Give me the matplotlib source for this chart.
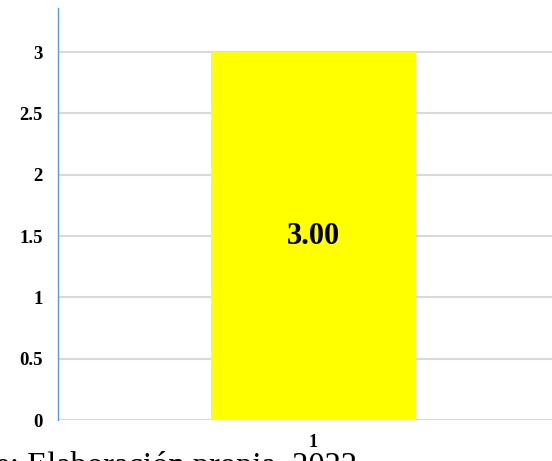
import matplotlib
matplotlib.use("Agg")
import matplotlib.pyplot as plt

categories = ["1"]
values = [3.00]
bar_labels = ["3.00"]
yticks = [0, 0.5, 1, 1.5, 2, 2.5, 3]
ytick_labels = ["0", "0.5", "1", "1.5", "2", "2.5", "3"]
source = "Fuente: Elaboración propia, 2022"

plt.rcParams['font.family'] = ['Liberation Serif', 'DejaVu Serif']

fig = plt.figure(figsize=(5.52, 4.61), dpi=100)
ax = fig.add_axes([58 / 552, 1 - 420 / 461, 1 - 58 / 552, (420 - 8) / 461])

x = list(range(len(categories)))
bars = ax.bar(x, values, width=1.0, color='#FFFF00', zorder=2)
for b, lab in zip(bars, bar_labels):
    ax.text(b.get_x() + b.get_width() / 2, b.get_height() / 2, lab,
            ha='center', va='center', fontsize=22, fontweight='bold', color='black', zorder=3)

ax.set_xlim(-1.246, 1.163)
ax.set_ylim(0, 3.36)
ax.set_xticks(x)
ax.set_xticklabels(categories, fontsize=13, fontweight='bold')
ax.set_yticks(yticks)
ax.set_yticklabels(ytick_labels, fontsize=13.5, fontweight='bold')
ax.tick_params(axis='both', length=0)
ax.tick_params(axis='y', pad=11)
ax.tick_params(axis='x', pad=10)

ax.grid(axis='y', color='#d9d9d9', linewidth=1.5, zorder=0)
for s in ['top', 'right', 'bottom']:
    ax.spines[s].set_visible(False)
ax.spines['left'].set_color('#5B9BD5')
ax.spines['left'].set_linewidth(1.0)

# source note, cut off at the bottom edge like in the original
fig.text(-79 / 552, (461 - 475) / 461, source, fontsize=23.5, va='baseline', ha='left')

fig.savefig("out.png", dpi=100)
